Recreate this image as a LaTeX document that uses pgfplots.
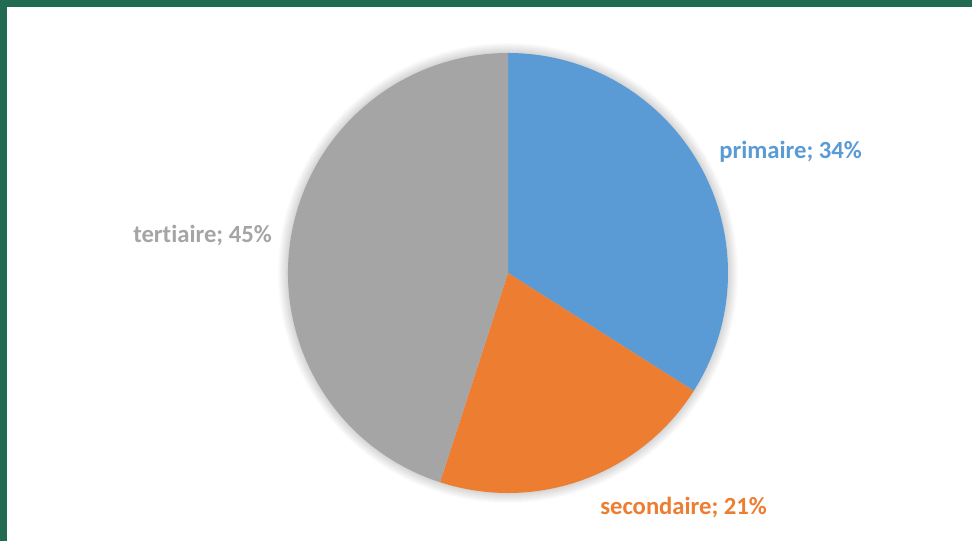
\documentclass[border=0pt]{standalone}
\usepackage{pgfplots}
\pgfplotsset{compat=1.18}
\usepackage{pgfplotstable}
\usepackage{fontspec}
\setmainfont{Carlito}[Ligatures=NoCommon]
\definecolor{cprim}{HTML}{5B9BD5}
\definecolor{csec}{HTML}{ED7D31}
\definecolor{cter}{HTML}{A5A5A5}
\definecolor{frame}{HTML}{226B53}
\pgfplotstableread{
label value
primaire 34
secondaire 21
tertiaire 45
}\piedata
\pgfplotstablegetelem{0}{value}\of\piedata \let\va\pgfplotsretval
\pgfplotstablegetelem{1}{value}\of\piedata \let\vb\pgfplotsretval
\pgfplotstablegetelem{2}{value}\of\piedata \let\vc\pgfplotsretval
\pgfmathsetmacro{\aA}{90}
\pgfmathsetmacro{\aB}{90-3.6*\va}
\pgfmathsetmacro{\aC}{\aB-3.6*\vb}
\pgfmathsetmacro{\aD}{\aC-3.6*\vc}
\begin{document}
\begin{tikzpicture}
\begin{axis}[
  scale only axis, width=729pt, height=405.75pt,
  xmin=0, xmax=972, ymin=0, ymax=541,
  hide axis, clip=false]
  \fill[white] (0,0) rectangle (972,541);
  \fill[frame] (0,534) rectangle (972,541);
  \fill[frame] (0,0) rectangle (7,541);
  % soft shadow
  \pgfplotsinvokeforeach{1,...,10}{
    \fill[black, fill opacity=0.015] (508,268) circle[radius={165pt+#1*0.75pt}];
  }
  \fill[cprim] (508,268) -- ++(\aA:165pt) arc[start angle=\aA, end angle=\aB, radius=165pt] -- cycle;
  \fill[csec] (508,268) -- ++(\aB:165pt) arc[start angle=\aB, end angle=\aC, radius=165pt] -- cycle;
  \fill[cter] (508,268) -- ++(\aC:165pt) arc[start angle=\aC, end angle=\aD, radius=165pt] -- cycle;
  \node[anchor=west, inner sep=0pt, text=cprim, font=\fontsize{18.5}{20}\selectfont\bfseries] at (719,389) {primaire; \va\%};
  \node[anchor=west, inner sep=0pt, text=csec, font=\fontsize{18.5}{20}\selectfont\bfseries] at (600,33) {secondaire; \vb\%};
  \node[anchor=west, inner sep=0pt, text=cter, font=\fontsize{18.5}{20}\selectfont\bfseries] at (133,305) {tertiaire; \vc\%};
\end{axis}
\end{tikzpicture}
\end{document}
